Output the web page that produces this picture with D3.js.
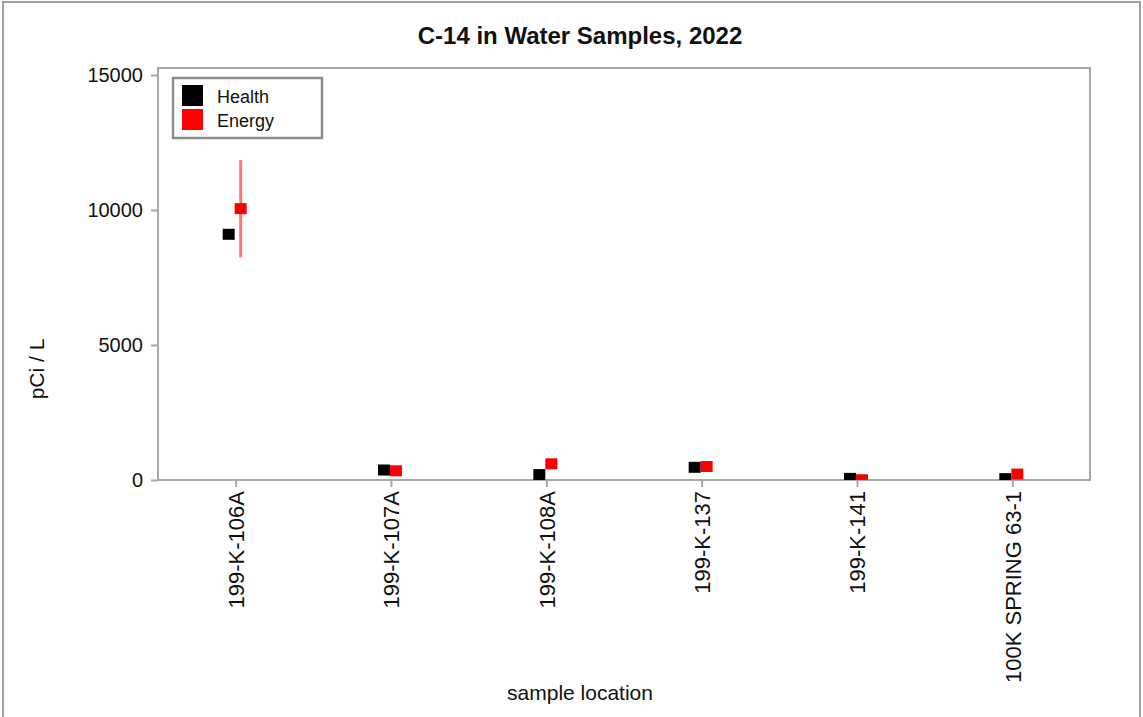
<!DOCTYPE html>
<html><head><meta charset="utf-8">
<script src="https://cdn.jsdelivr.net/npm/d3@7"></script>
<style>body{margin:0;background:#fff}svg{display:block;font-family:"Liberation Sans",Arial,sans-serif}</style>
</head><body>
<svg id="c" width="1143" height="717"></svg>
<script>
const categories = ["199-K-106A","199-K-107A","199-K-108A","199-K-137","199-K-141","100K SPRING 63-1"];
const health = [9100, 370, 200, 470, 60, 50];
const energy = [10050, 340, 600, 500, 10, 220];
const energyErr = [1800, 60, 60, 60, 30, 60];
const yTicks = [0, 5000, 10000, 15000];
const seriesNames = ["Health", "Energy"];
const seriesColors = ["#000000", "#ff0000"];

const svg = d3.select("#c");
const L = 158, R = 1090, T = 68, B = 480;
const x = d3.scalePoint().domain(categories).range([L, R]).padding(0.5);
const y = d3.scaleLinear().domain([0, 15000]).range([B, 75]);

// outer frame
svg.append("rect").attr("x", 3).attr("y", 2).attr("width", 1137).attr("height", 730)
  .attr("fill", "none").attr("stroke", "#a0a0a0").attr("stroke-width", 2);

// title
svg.append("text").attr("x", 580).attr("y", 44).attr("text-anchor", "middle")
  .attr("font-size", 24).attr("font-weight", "bold").attr("fill", "#111")
  .text("C-14 in Water Samples, 2022");

// plot frame
svg.append("rect").attr("x", L).attr("y", T).attr("width", R - L).attr("height", B - T)
  .attr("fill", "none").attr("stroke", "#a8a8a8").attr("stroke-width", 2);

// y axis
const ya = svg.append("g").attr("transform", `translate(${L},0)`)
  .call(d3.axisLeft(y).tickValues(yTicks).tickSize(7).tickPadding(8).tickFormat(d3.format("d")));
ya.select(".domain").remove();
ya.selectAll(".tick line").attr("stroke", "#a8a8a8").attr("stroke-width", 2);
ya.selectAll(".tick text").attr("font-size", 20).attr("fill", "#111").attr("font-family", "Liberation Sans, Arial, sans-serif");

// x axis
const xa = svg.append("g").attr("transform", `translate(0,${B})`)
  .call(d3.axisBottom(x).tickSize(7).tickPadding(4));
xa.select(".domain").remove();
xa.selectAll(".tick line").attr("stroke", "#a8a8a8").attr("stroke-width", 2);
xa.selectAll(".tick text").attr("font-size", 22).attr("fill", "#111")
  .attr("font-family", "Liberation Sans, Arial, sans-serif")
  .attr("transform", "rotate(-90)").attr("text-anchor", "end")
  .attr("x", -11).attr("y", 0).attr("dy", "0.35em");

// axis titles
svg.append("text").attr("transform", "translate(44,369) rotate(-90)").attr("text-anchor", "middle")
  .attr("font-size", 21).attr("fill", "#111").text("pCi / L");
svg.append("text").attr("x", 580).attr("y", 700).attr("text-anchor", "middle")
  .attr("font-size", 21).attr("fill", "#111").text("sample location");

// clip
svg.append("clipPath").attr("id", "clip").append("rect")
  .attr("x", L).attr("y", T).attr("width", R - L).attr("height", B - T);
const g = svg.append("g").attr("clip-path", "url(#clip)");

const offsets = [-7, 5];
const MS = 12, MH = 11;

// error bars (energy)
g.selectAll(".err").data(categories).join("line")
  .attr("x1", (d, i) => x(d) + offsets[1]).attr("x2", (d, i) => x(d) + offsets[1])
  .attr("y1", (d, i) => y(energy[i] - energyErr[i])).attr("y2", (d, i) => y(energy[i] + energyErr[i]))
  .attr("stroke", "#ff7878").attr("stroke-width", 3);

[health, energy].forEach((vals, s) => {
  g.selectAll(".m" + s).data(categories).join("rect")
    .attr("x", d => x(d) + offsets[s] - MS / 2)
    .attr("y", (d, i) => y(vals[i]) - MH / 2)
    .attr("width", MS).attr("height", MH)
    .attr("fill", seriesColors[s]);
});

// legend
const lg = svg.append("g");
lg.append("rect").attr("x", 173).attr("y", 78).attr("width", 149).attr("height", 60)
  .attr("fill", "#fff").attr("stroke", "#8c8c8c").attr("stroke-width", 2.5);
seriesNames.forEach((n, i) => {
  lg.append("rect").attr("x", 182).attr("y", 85 + i * 24).attr("width", 21).attr("height", 21)
    .attr("fill", seriesColors[i]);
  lg.append("text").attr("x", 217).attr("y", 103 + i * 24).attr("font-size", 18)
    .attr("fill", "#111").text(n);
});
</script>
</body></html>
